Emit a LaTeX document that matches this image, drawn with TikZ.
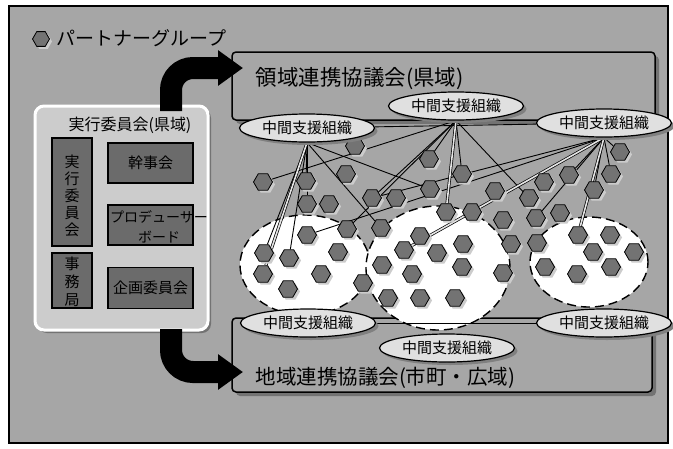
\documentclass[tikz,border=0pt]{standalone}
\usepackage{fontspec}
\setmainfont{Noto Sans CJK JP}
\usetikzlibrary{arrows.meta,shapes.geometric,shadows}
\pgfdeclarelayer{back}
\pgfdeclarelayer{links}
\pgfsetlayers{back,links,main}

\begin{document}
\begin{tikzpicture}[x=1pt, y=-1pt,
  hexa/.style={regular polygon, regular polygon sides=6, minimum size=19pt,
    inner sep=0pt, draw=black, line width=0.8pt, fill=black!55,
    drop shadow={shadow xshift=2.5pt, shadow yshift=-2.5pt, fill=black!20, opacity=1}},
  midorg/.style={ellipse, draw=black, line width=1.2pt, fill=black!12,
    minimum width=135pt, minimum height=28pt, inner sep=0pt,
    font=\fontsize{15}{18}\selectfont,
    drop shadow={shadow xshift=3pt, shadow yshift=-3pt, fill=black!50, opacity=1}},
  council/.style={draw=black, line width=1.5pt, fill=black!35, rounded corners=4pt,
    drop shadow={shadow xshift=4pt, shadow yshift=-4pt, fill=black!55, opacity=1}},
  execbox/.style={draw=white, line width=3pt, fill=black!20, rounded corners=9pt,
    drop shadow={shadow xshift=3pt, shadow yshift=-3pt, fill=black!55, opacity=1}},
  subbox/.style={draw=black, line width=1.3pt, fill=black!58, inner sep=0pt},
  zone/.style={ellipse, draw=black, line width=1.4pt, dash pattern=on 9pt off 5pt,
    fill=white, inner sep=0pt},
  link/.style={line width=0.9pt},
  duallink/.style={line width=0.7pt, double=black!10, double distance=1.6pt},
  bigarrow/.style={line width=22pt, -{Triangle[length=25pt,width=34pt]}}]

\useasboundingbox (0,0) rectangle (673,448);

\begin{pgfonlayer}{back}
% FRAME
\draw [line width=1.5pt, fill=black!35] (9,6) rectangle (668,443);

% COUNCILS
\node [council, minimum width=423pt, minimum height=68pt] (ryouiki) at (443.5,86) {};
\node [council, minimum width=420pt, minimum height=74pt] (chiiki) at (442,355) {};

% EXECUTIVE COMMITTEE
\node [execbox, minimum width=173pt, minimum height=224pt] (jikkoui) at (121.5,218) {};
\node [subbox, minimum width=40pt, minimum height=108pt] (jikkou) at (72,192) {};
\node [subbox, minimum width=40pt, minimum height=55pt] (jimu) at (72,280.5) {};
\node [subbox, minimum width=85pt, minimum height=40pt] (kanji) at (150.5,163) {};
\node [subbox, minimum width=85pt, minimum height=40pt] (produce) at (150.5,225) {};
\node [subbox, minimum width=85pt, minimum height=41pt] (kikaku) at (150.5,288) {};

% ZONES
\node [zone, minimum width=130pt, minimum height=100pt] (z1) at (305,265) {};
\node [zone, minimum width=144pt, minimum height=124pt] (z2) at (438,268) {};
\node [zone, minimum width=118pt, minimum height=90pt] (z3) at (589,262) {};
\end{pgfonlayer}

% MEMBERS
\foreach \x/\y [count=\i] in {263/182, 306/181, 307/204, 329/204, 346/174, 355/146,
    372/198, 396/198, 429/159, 430/189, 462/174, 495/191, 529/198, 544/182,
    569/175, 594/190, 611/174, 620/152, 446/212, 472/212, 503/220, 536/218,
    560/213, 347/229, 307/235, 264/253, 289/258, 338/252, 263/274, 321/274,
    288/289, 381/228, 363/283, 382/265, 404/250, 420/236, 437/253, 412/274,
    388/298, 420/298, 455/298, 463/244, 462/267, 503/273, 511/244, 537/243,
    545/267, 578/235, 610/235, 593/252, 634/252, 611/267, 577/274}
  \node [hexa] (h\i) at (\x,\y) {};

% INTERMEDIATE SUPPORT
\node [midorg] (midtop1) at (307,128) {中間支援組織};
\node [midorg] (midtop2) at (456,106) {中間支援組織};
\node [midorg] (midtop3) at (604,123) {中間支援組織};
\node [midorg] (midbot1) at (308,323) {中間支援組織};
\node [midorg] (midbot2) at (447,348) {中間支援組織};
\node [midorg] (midbot3) at (604,323) {中間支援組織};

\begin{pgfonlayer}{links}
\draw [link] (midtop1) -- (midtop3);
\draw [link] (midbot1) -- (midbot3);
\foreach \a/\b in {1/26, 1/27, 1/2, 1/3, 1/32, 1/10,
    2/1, 2/24, 2/9, 2/11, 2/13, 2/7,
    3/7, 3/25, 3/15, 3/16, 3/17, 3/18, 3/22}
  \draw [link] (midtop\a.south) -- (h\b);
\foreach \a/\b in {1/29, 2/19, 3/35, 3/48}
  \draw [duallink] (midtop\a.south) -- (h\b);
\end{pgfonlayer}

% ARROWS
\draw [bigarrow] (171,111) -- (171,90) to[out=90,in=180] (193,68) -- (243,68);
\draw [bigarrow] (171,329) -- (171,350) to[out=-90,in=180] (193,372) -- (243,372);

% LABELS
\node [hexa, minimum size=17pt] (icon) at (41,39) {};
\node [anchor=west, font=\fontsize{19}{22}\selectfont] (partner) at (53,38) {パートナーグループ};
\node [anchor=west, font=\fontsize{21.5}{24}\selectfont] (ryouikitxt) at (252,79) {領域連携協議会(県域)};
\node [anchor=west, font=\fontsize{20.5}{24}\selectfont] (chiikitxt) at (252,378) {地域連携協議会(市町・広域)};
\node [font=\fontsize{16}{19}\selectfont] (jikkouitxt) at (130,125) {実行委員会(県域)};
\node [align=center, font=\fontsize{15}{17}\selectfont] (jikkoutxt) at (72,196) {実\\行\\委\\員\\会};
\node [align=center, font=\fontsize{15}{18}\selectfont] (jimutxt) at (72,282) {事\\務\\局};
\node [font=\fontsize{15}{18}\selectfont] (kanjitxt) at (kanji) {幹事会};
\node [align=center, font=\fontsize{14}{20}\selectfont] (producetxt) at (159,227) {プロデューサー\\ボード};
\node [font=\fontsize{15}{18}\selectfont] (kikakutxt) at (kikaku) {企画委員会};

\end{tikzpicture}
\end{document}
